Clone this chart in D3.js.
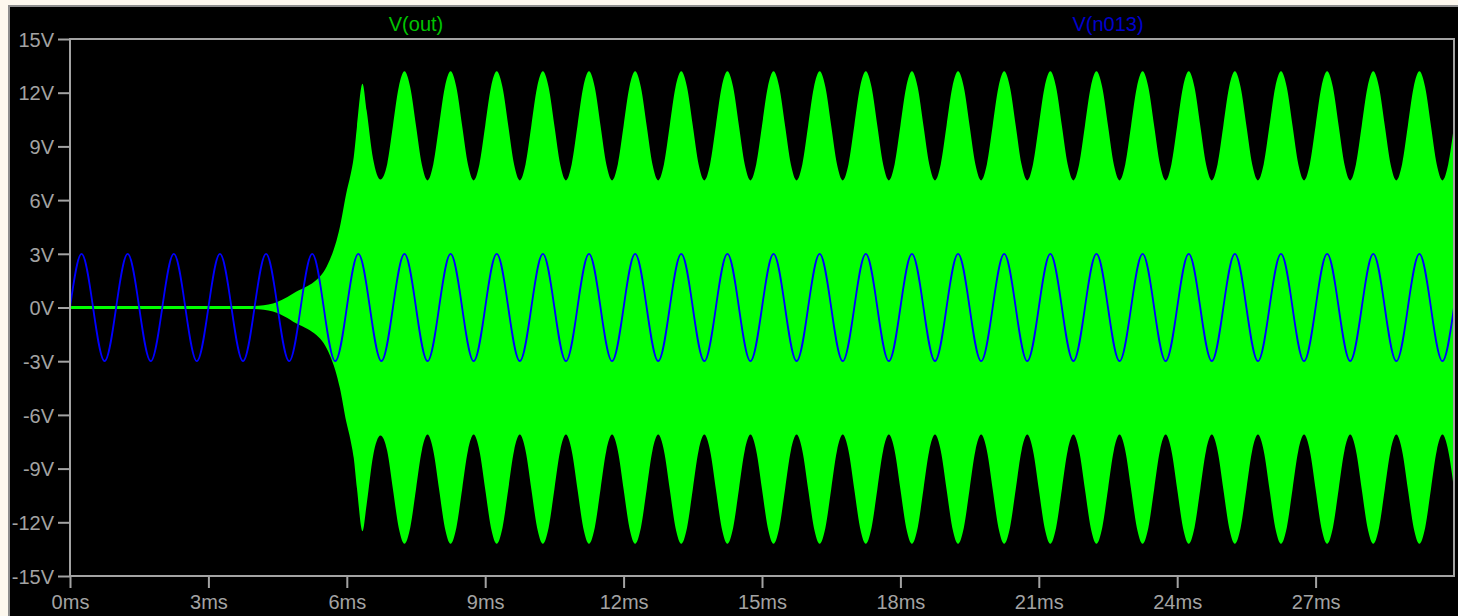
<!DOCTYPE html>
<html>
<head>
<meta charset="utf-8">
<script src="https://cdn.jsdelivr.net/npm/d3@7"></script>
<style>
  html, body { margin: 0; background: #fdf8ee; overflow: hidden; }
  svg { display: block; }
</style>
</head>
<body>
<svg id="chart" width="1458" height="616"></svg>
<script>
const traceNames = ['V(out)', 'V(n013)']
const traceColors = ['#00ff00', '#0000ff']
const labelColors = ['#00c400', '#0000cc']

const xTicks = [0, 3, 6, 9, 12, 15, 18, 21, 24, 27]
const yTicks = [-15, -12, -9, -6, -3, 0, 3, 6, 9, 12, 15]

// V(out) envelope: [ms, V], trace fills -V..+V
const outEnvelope = [
  [0, 0.08], [3.9, 0.08], [4.2, 0.13], [4.4, 0.23], [4.65, 0.5], [4.9, 0.88], [5.15, 1.2], [5.34, 1.54],
  [5.5, 2.0], [5.63, 2.65], [5.75, 3.5], [5.85, 4.5], [5.99, 6.4], [6.08, 7.4], [6.15, 8.4], [6.22, 10.1],
  [6.34, 12.5], [6.43, 11.0], [6.57, 8.3], [6.73, 7.15],
  [6.875, 8.0], [7, 10.15], [7.125, 12.3], [7.25, 13.2], [7.375, 12.3], [7.5, 10.15], [7.625, 8.0], [7.75, 7.1],
  [7.875, 8.0], [8, 10.15], [8.125, 12.3], [8.25, 13.2], [8.375, 12.3], [8.5, 10.15], [8.625, 8.0], [8.75, 7.1],
  [8.875, 8.0], [9, 10.15], [9.125, 12.3], [9.25, 13.2], [9.375, 12.3], [9.5, 10.15], [9.625, 8.0], [9.75, 7.1],
  [9.875, 8.0], [10, 10.15], [10.125, 12.3], [10.25, 13.2], [10.375, 12.3], [10.5, 10.15], [10.625, 8.0], [10.75, 7.1],
  [10.875, 8.0], [11, 10.15], [11.125, 12.3], [11.25, 13.2], [11.375, 12.3], [11.5, 10.15], [11.625, 8.0], [11.75, 7.1],
  [11.875, 8.0], [12, 10.15], [12.125, 12.3], [12.25, 13.2], [12.375, 12.3], [12.5, 10.15], [12.625, 8.0], [12.75, 7.1],
  [12.875, 8.0], [13, 10.15], [13.125, 12.3], [13.25, 13.2], [13.375, 12.3], [13.5, 10.15], [13.625, 8.0], [13.75, 7.1],
  [13.875, 8.0], [14, 10.15], [14.125, 12.3], [14.25, 13.2], [14.375, 12.3], [14.5, 10.15], [14.625, 8.0], [14.75, 7.1],
  [14.875, 8.0], [15, 10.15], [15.125, 12.3], [15.25, 13.2], [15.375, 12.3], [15.5, 10.15], [15.625, 8.0], [15.75, 7.1],
  [15.875, 8.0], [16, 10.15], [16.125, 12.3], [16.25, 13.2], [16.375, 12.3], [16.5, 10.15], [16.625, 8.0], [16.75, 7.1],
  [16.875, 8.0], [17, 10.15], [17.125, 12.3], [17.25, 13.2], [17.375, 12.3], [17.5, 10.15], [17.625, 8.0], [17.75, 7.1],
  [17.875, 8.0], [18, 10.15], [18.125, 12.3], [18.25, 13.2], [18.375, 12.3], [18.5, 10.15], [18.625, 8.0], [18.75, 7.1],
  [18.875, 8.0], [19, 10.15], [19.125, 12.3], [19.25, 13.2], [19.375, 12.3], [19.5, 10.15], [19.625, 8.0], [19.75, 7.1],
  [19.875, 8.0], [20, 10.15], [20.125, 12.3], [20.25, 13.2], [20.375, 12.3], [20.5, 10.15], [20.625, 8.0], [20.75, 7.1],
  [20.875, 8.0], [21, 10.15], [21.125, 12.3], [21.25, 13.2], [21.375, 12.3], [21.5, 10.15], [21.625, 8.0], [21.75, 7.1],
  [21.875, 8.0], [22, 10.15], [22.125, 12.3], [22.25, 13.2], [22.375, 12.3], [22.5, 10.15], [22.625, 8.0], [22.75, 7.1],
  [22.875, 8.0], [23, 10.15], [23.125, 12.3], [23.25, 13.2], [23.375, 12.3], [23.5, 10.15], [23.625, 8.0], [23.75, 7.1],
  [23.875, 8.0], [24, 10.15], [24.125, 12.3], [24.25, 13.2], [24.375, 12.3], [24.5, 10.15], [24.625, 8.0], [24.75, 7.1],
  [24.875, 8.0], [25, 10.15], [25.125, 12.3], [25.25, 13.2], [25.375, 12.3], [25.5, 10.15], [25.625, 8.0], [25.75, 7.1],
  [25.875, 8.0], [26, 10.15], [26.125, 12.3], [26.25, 13.2], [26.375, 12.3], [26.5, 10.15], [26.625, 8.0], [26.75, 7.1],
  [26.875, 8.0], [27, 10.15], [27.125, 12.3], [27.25, 13.2], [27.375, 12.3], [27.5, 10.15], [27.625, 8.0], [27.75, 7.1],
  [27.875, 8.0], [28, 10.15], [28.125, 12.3], [28.25, 13.2], [28.375, 12.3], [28.5, 10.15], [28.625, 8.0], [28.75, 7.1],
  [28.875, 8.0], [29, 10.15], [29.125, 12.3], [29.25, 13.2], [29.375, 12.3], [29.5, 10.15], [29.625, 8.0], [29.75, 7.1],
  [29.875, 8.0], [30, 10.15]
]

// V(n013) sampled every quarter period (0.25 ms)
const n013Times = d3.range(0, 30.001, 0.25)
const n013Volts = [
  0, 3, 0, -3, 0, 3, 0, -3, 0, 3, 0, -3, 0, 3, 0, -3, 0, 3, 0, -3,
  0, 3, 0, -3, 0, 3, 0, -3, 0, 3, 0, -3, 0, 3, 0, -3, 0, 3, 0, -3,
  0, 3, 0, -3, 0, 3, 0, -3, 0, 3, 0, -3, 0, 3, 0, -3, 0, 3, 0, -3,
  0, 3, 0, -3, 0, 3, 0, -3, 0, 3, 0, -3, 0, 3, 0, -3, 0, 3, 0, -3,
  0, 3, 0, -3, 0, 3, 0, -3, 0, 3, 0, -3, 0, 3, 0, -3, 0, 3, 0, -3,
  0, 3, 0, -3, 0, 3, 0, -3, 0, 3, 0, -3, 0, 3, 0, -3, 0, 3, 0, -3,
  0
]

const width = 1458
const height = 616
const margin = { top: 39, right: 4, bottom: 40, left: 70 }
const innerW = width - margin.left - margin.right
const innerH = height - margin.top - margin.bottom
const font = '"Liberation Sans", Arial, sans-serif'
const gray = '#a3a3a3'

const x = d3.scaleLinear([0, 30], [margin.left, width - margin.right])
const y = d3.scaleLinear([-15, 15], [height - margin.bottom, margin.top])

const svg = d3.select('#chart')

svg.append('rect')
  .attr('x', 9).attr('y', 6)
  .attr('width', width).attr('height', height)
  .attr('fill', '#000')
  .attr('stroke', '#8e8e8e')
  .attr('stroke-width', 2)

svg.append('clipPath').attr('id', 'plot-clip')
  .append('rect')
  .attr('x', margin.left).attr('y', margin.top)
  .attr('width', innerW).attr('height', innerH)

const plot = svg.append('g').attr('clip-path', 'url(#plot-clip)')

const outArea = d3.area()
  .x(d => x(d[0]))
  .y0(d => y(-d[1]))
  .y1(d => y(d[1]))
  .curve(d3.curveMonotoneX)

plot.append('path')
  .datum(outEnvelope)
  .attr('d', outArea)
  .attr('fill', traceColors[0])

const n013Line = d3.line()
  .x((d, i) => x(n013Times[i]))
  .y(d => y(d))
  .curve(d3.curveNatural)

plot.append('path')
  .datum(n013Volts)
  .attr('d', n013Line)
  .attr('fill', 'none')
  .attr('stroke', traceColors[1])
  .attr('stroke-width', 1.8)

svg.append('rect')
  .attr('x', margin.left).attr('y', margin.top)
  .attr('width', innerW).attr('height', innerH)
  .attr('fill', 'none')
  .attr('stroke', gray)
  .attr('stroke-width', 2)

const yAxis = svg.append('g')
  .attr('transform', `translate(${margin.left},0)`)
  .call(d3.axisLeft(y).tickValues(yTicks).tickSize(12).tickPadding(4).tickFormat(d => d + 'V'))
yAxis.select('.domain').remove()
yAxis.selectAll('line').attr('stroke', gray).attr('stroke-width', 2)
yAxis.selectAll('text')
  .attr('fill', gray)
  .attr('font-family', font)
  .attr('font-size', 20)
  .attr('dy', '0.36em')

const xAxis = svg.append('g')
  .attr('transform', `translate(0,${height - margin.bottom})`)
  .call(d3.axisBottom(x).tickValues(xTicks).tickSize(12).tickFormat(d => d + 'ms'))
xAxis.select('.domain').remove()
xAxis.selectAll('line').attr('stroke', gray).attr('stroke-width', 2)
xAxis.selectAll('text')
  .attr('fill', gray)
  .attr('font-family', font)
  .attr('font-size', 20)
  .attr('y', 33)
  .attr('dy', 0)

svg.selectAll('text.trace')
  .data(traceNames)
  .join('text')
  .attr('class', 'trace')
  .attr('x', (d, i) => margin.left + innerW * (i + 0.5) / traceNames.length)
  .attr('y', 31)
  .attr('text-anchor', 'middle')
  .attr('font-family', font)
  .attr('font-size', 20)
  .attr('fill', (d, i) => labelColors[i])
  .text(d => d)
</script>
</body>
</html>
